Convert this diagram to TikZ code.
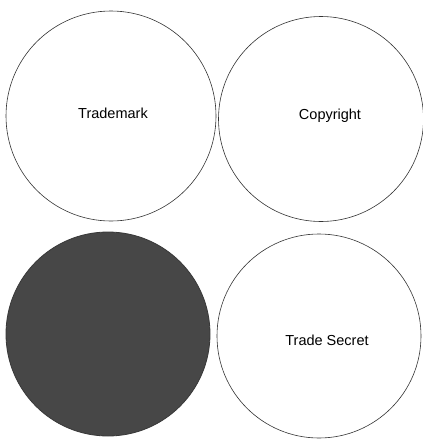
\documentclass[tikz,border=0pt]{standalone}
\usepackage{fontspec}
\setmainfont{Liberation Sans}
\begin{document}
\begin{tikzpicture}[x=1pt,y=-1pt,
  ipcircle/.style={circle,draw=black!80,line width=0.6pt,inner sep=0pt},
  iplabel/.style={font=\fontsize{14.5}{17}\selectfont,inner sep=0pt},
  darkcircle/.style={circle,draw=black!78,fill=black!72,line width=0.8pt,inner sep=0pt}]
\useasboundingbox (0,0) rectangle (423,440);
\node[ipcircle,minimum size=210pt] (tm) at (111,116) {};
\node[ipcircle,minimum size=205pt] (cr) at (321,119) {};
\node[darkcircle,minimum size=204pt] (dk) at (108,334) {};
\node[ipcircle,minimum size=204pt] (ts) at (319,336) {};
\node[iplabel] (tmtext) at (113,113) {Trademark};
\node[iplabel] (crtext) at (330,116) {Copyright};
\node[iplabel] (tstext) at (327,340) {Trade Secret};
\end{tikzpicture}
\end{document}
